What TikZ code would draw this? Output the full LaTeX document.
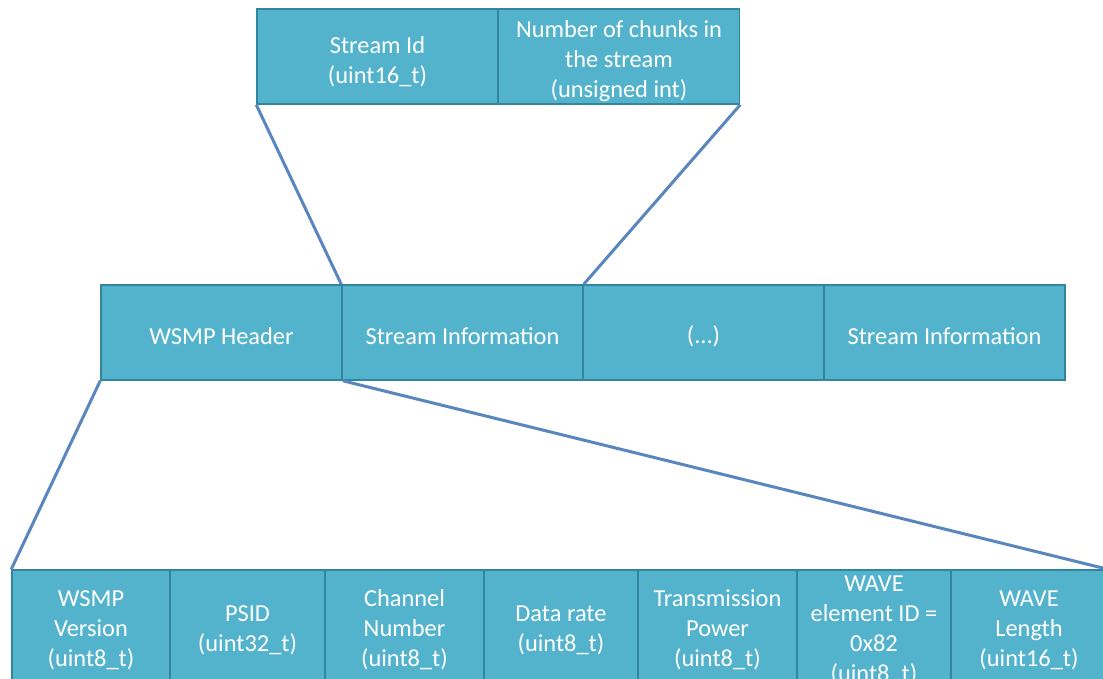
\documentclass[tikz,border=0pt]{standalone}
\usepackage{fontspec}
\setmainfont{Carlito}
\definecolor{cellfill}{HTML}{54B3CC}
\definecolor{cellline}{HTML}{31859C}
\definecolor{linkline}{HTML}{5A86C0}
\begin{document}
\begin{tikzpicture}[x=1pt,y=-1pt,
  cell/.style={draw=cellline, line width=1.5pt, fill=cellfill, inner sep=0pt},
  celltext/.style={text=white, inner sep=0pt, align=center, font=\fontsize{24.4}{30}\selectfont},
  widecell/.style={cell, minimum width=241pt, minimum height=95pt},
  lowcell/.style={cell, minimum height=116pt},
  link/.style={draw=linkline, line width=3pt}]
\useasboundingbox (0,0) rectangle (1103,678);
\clip (0,0) rectangle (1103,678);

% stream information detail
\node[widecell] (sid) at (377.5,56.5) {};
\node[widecell] (nchunks) at (619,56.5) {};
\node[celltext] (sidt) at ([yshift=-5pt]sid.center) {Stream Id\\(uint16\_t)};
\node[celltext] (nchunkst) at ([yshift=-5pt]nchunks.center) {Number of chunks in\\the stream\\(unsigned int)};

% packet layout
\node[widecell] (hdr) at (221.5,332.5) {};
\node[widecell] (si1) at (462.5,332.5) {};
\node[widecell] (dots) at (703.5,332.5) {};
\node[widecell] (si2) at (944.5,332.5) {};
\node[celltext] (hdrt) at ([yshift=-4pt]hdr.center) {WSMP Header};
\node[celltext] (si1t) at ([yshift=-4pt]si1.center) {Stream Information};
\node[celltext] (dotst) at ([yshift=-4pt]dots.center) {(...)};
\node[celltext] (si2t) at ([yshift=-4pt]si2.center) {Stream Information};

% WSMP header fields
\node[lowcell, minimum width=158pt] (ver) at (91,628) {};
\node[lowcell, minimum width=155pt] (psid) at (247.5,628) {};
\node[lowcell, minimum width=159pt] (chan) at (404.5,628) {};
\node[lowcell, minimum width=154pt] (rate) at (561,628) {};
\node[lowcell, minimum width=159pt] (pwr) at (717.5,628) {};
\node[lowcell, minimum width=154pt] (elem) at (874,628) {};
\node[lowcell, minimum width=156pt] (len) at (1029,628) {};
\node[celltext] (vert) at ([yshift=-2pt]ver.center) {WSMP\\Version\\(uint8\_t)};
\node[celltext] (psidt) at ([yshift=-2pt]psid.center) {PSID\\(uint32\_t)};
\node[celltext] (chant) at ([yshift=-2pt]chan.center) {Channel\\Number\\(uint8\_t)};
\node[celltext] (ratet) at ([yshift=-2pt]rate.center) {Data rate\\(uint8\_t)};
\node[celltext] (pwrt) at ([yshift=-2pt]pwr.center) {Transmission\\Power\\(uint8\_t)};
\node[celltext] (elemt) at ([yshift=-2pt]elem.center) {WAVE\\element ID =\\0x82\\(uint8\_t)};
\node[celltext] (lent) at ([yshift=-2pt]len.center) {WAVE\\Length\\(uint16\_t)};

% expansion lines
\draw[link] (sid.south west) -- (si1.north west);
\draw[link] (nchunks.south east) -- (si1.north east);
\draw[link] (hdr.south west) -- (ver.north west);
\draw[link] (hdr.south east) -- (len.north east);
\end{tikzpicture}
\end{document}
